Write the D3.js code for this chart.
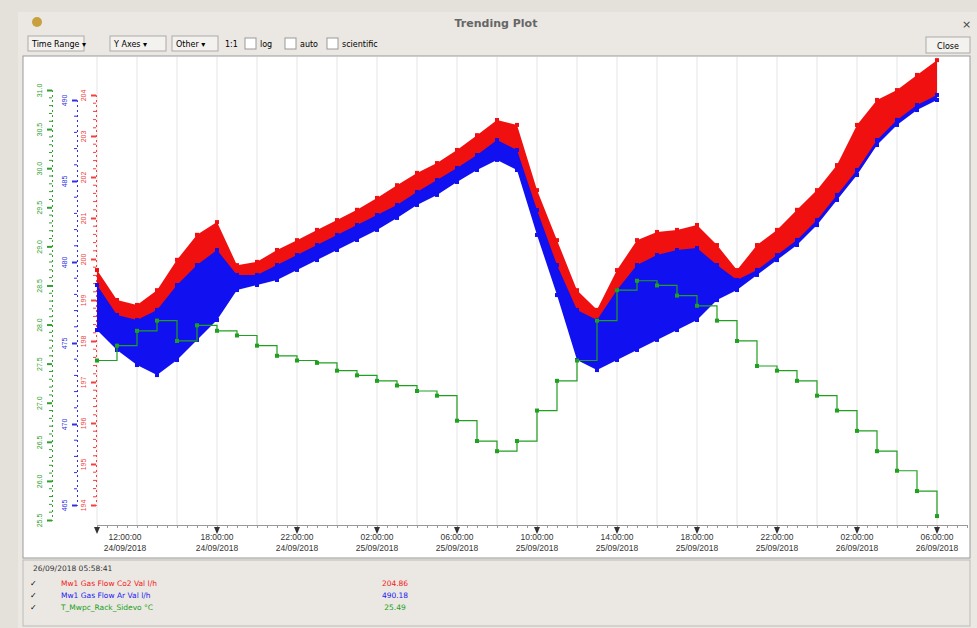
<!DOCTYPE html>
<html><head><meta charset="utf-8">
<script src="https://cdn.jsdelivr.net/npm/d3@7"></script>
<style>body{margin:0;background:#e4e0da;font-family:"DejaVu Sans",sans-serif}</style>
</head><body><svg width="977" height="628"></svg>
<script>
// hourly readings from 24/09/2018 12:00
const co2 = [199.73,199.0,198.88,199.24,199.98,200.59,200.90,199.85,199.93,200.22,200.46,200.71,200.95,201.20,201.49,201.80,202.10,202.34,202.66,203.02,203.39,203.27,201.68,200.46,199.24,198.76,199.73,200.46,200.66,200.71,200.83,200.34,199.73,200.34,200.71,201.20,201.68,202.29,203.27,203.88,204.12,204.49,204.85]
const arHigh = [478.58,476.73,476.42,477.04,478.58,479.81,480.74,479.20,479.20,479.81,480.43,481.05,481.67,482.28,482.90,483.52,484.32,485.06,485.80,486.60,487.53,486.91,483.21,479.81,477.04,476.42,478.27,479.81,480.43,480.74,480.86,479.81,478.89,479.51,480.43,481.36,482.59,484.14,485.68,487.53,488.77,489.69,490.31]
const arLow = [475.80,474.57,473.64,473.02,473.95,475.19,476.42,478.27,478.58,478.89,479.51,480.12,480.74,481.36,481.98,482.72,483.52,484.14,484.94,485.68,486.30,485.68,481.67,477.96,473.95,473.33,473.95,474.57,475.19,475.80,476.42,477.65,478.27,479.20,480.12,481.05,482.28,483.83,485.37,487.22,488.46,489.38,490.00]
const temp = [27.54,27.73,27.92,28.05,27.79,27.99,27.92,27.86,27.73,27.60,27.54,27.51,27.41,27.35,27.28,27.22,27.15,27.09,26.77,26.51,26.38,26.51,26.90,27.28,27.54,28.05,28.44,28.56,28.50,28.37,28.24,28.05,27.79,27.47,27.41,27.28,27.09,26.90,26.64,26.38,26.13,25.87,25.55]
const tickTimes = ["2018-09-24T12:00","2018-09-24T18:00","2018-09-24T22:00","2018-09-25T02:00","2018-09-25T06:00","2018-09-25T10:00","2018-09-25T14:00","2018-09-25T18:00","2018-09-25T22:00","2018-09-26T02:00","2018-09-26T06:00"]
const redTicks = d3.range(194,205)
const blueTicks = [465,470,475,480,485,490]
const greenTicks = d3.range(25.5,31.01,0.5)
const legend = [["Mw1  Gas  Flow  Co2  Val  l/h","204.86","#f02020"],["Mw1  Gas  Flow  Ar  Val  l/h","490.18","#2020f0"],["T_Mwpc_Rack_Sidevo   °C","25.49","#20a020"]]

const svg = d3.select("svg")
const t0 = new Date("2018-09-24T12:00")
const times = co2.map((d,i)=>new Date(+t0+i*3600e3))
const x = d3.scaleTime().domain([t0,new Date("2018-09-26T07:30")]).range([97,967])
const yR = d3.scaleLinear().domain([204,194]).range([95,505])
const yB = d3.scaleLinear().domain([490,465]).range([100,505])
const yG = d3.scaleLinear().domain([31,25.5]).range([90,520])

// window chrome
svg.append("rect").attr("x",18).attr("y",12).attr("width",959).attr("height",616).attr("fill","#ebe8e3")
svg.append("text").attr("x",496).attr("y",27).attr("text-anchor","middle").attr("font-size",11).attr("font-weight","bold").attr("fill","#666").text("Trending Plot")
svg.append("circle").attr("cx",37).attr("cy",22).attr("r",5).attr("fill","#c8a040")
svg.append("text").attr("x",962).attr("y",28).attr("font-size",11).attr("fill","#444").text("×")
const tb=[["Time Range ▾",28,56],["Y Axes ▾",110,56],["Other ▾",172,46]]
tb.forEach(([t,xx,w])=>{svg.append("rect").attr("x",xx).attr("y",36).attr("width",w).attr("height",15).attr("fill","#f4f2ee").attr("stroke","#aaa");svg.append("text").attr("x",xx+4).attr("y",47).attr("font-size",8).text(t)})
svg.append("text").attr("x",225).attr("y",47).attr("font-size",8).text("1:1")
;[["log",245],["auto",285],["scientific",327]].forEach(([t,xx])=>{svg.append("rect").attr("x",xx).attr("y",38).attr("width",11).attr("height",11).attr("fill","#fff").attr("stroke","#999");svg.append("text").attr("x",xx+15).attr("y",47).attr("font-size",8).text(t)})
svg.append("rect").attr("x",926).attr("y",37).attr("width",44).attr("height",16).attr("fill","#f4f2ee").attr("stroke","#aaa")
svg.append("text").attr("x",948).attr("y",49).attr("text-anchor","middle").attr("font-size",8).text("Close")

// plot panel
svg.append("rect").attr("x",23).attr("y",56).attr("width",947).attr("height",502).attr("fill","#fff").attr("stroke","#999")
const grid = svg.append("g")
d3.timeHour.every(2).range(t0,new Date("2018-09-26T08:00")).forEach(d=>{
  grid.append("line").attr("x1",x(d)).attr("x2",x(d)).attr("y1",57).attr("y2",525).attr("stroke","#e4e4e4")
})

// x axis
const xa = svg.append("g").attr("transform","translate(0,525)")
xa.call(d3.axisBottom(x).ticks(d3.timeMinute.every(30)).tickFormat("").tickSize(3))
xa.select(".domain").attr("stroke","#999")
xa.selectAll("line").attr("stroke","#999")
tickTimes.forEach((s,i)=>{
  const d = new Date(s), px = x(d)
  xa.append("path").attr("d",`M${px-3},2L${px+3},2L${px},9Z`).attr("fill","#333")
  const lx = i===0 ? px+28 : px
  xa.append("text").attr("x",lx).attr("y",15).attr("text-anchor","middle").attr("font-size",8.5).attr("fill","#333").text(d3.timeFormat("%H:%M:%S")(d))
  xa.append("text").attr("x",lx).attr("y",26).attr("text-anchor","middle").attr("font-size",8.5).attr("fill","#333").text(d3.timeFormat("%d/%m/%Y")(d))
})

// y axes
function yaxis(sc,ticks,xx,col,fmt){
  const g = svg.append("g").attr("transform",`translate(${xx},0)`)
  g.call(d3.axisLeft(sc).tickValues(ticks).tickFormat(fmt).tickSize(5))
  g.selectAll("text").attr("fill",col).attr("font-size",7).attr("transform","rotate(-90)").attr("x",0).attr("y",-10).attr("text-anchor","middle").attr("dy",0)
  g.selectAll("line").attr("stroke",col).attr("stroke-width",2)
  g.select(".domain").attr("stroke",col).attr("stroke-dasharray","2,3")
  const minor = []; for(let i=0;i<ticks.length-1;i++) for(let k=1;k<5;k++) minor.push(ticks[i]+(ticks[i+1]-ticks[i])*k/5)
  g.selectAll(".mn").data(minor).join("line").attr("x1",-3).attr("x2",0).attr("y1",sc).attr("y2",sc).attr("stroke",col)
}
yaxis(yG,greenTicks,52,"#30a030",d3.format(".1f"))
yaxis(yB,blueTicks,77,"#3030e0",d3.format("d"))
yaxis(yR,redTicks,96,"#f04040",d3.format("d"))

// series
const plot = svg.append("g")
function dots(vals,sc,col){
  plot.selectAll(null).data(vals).join("rect").attr("x",(d,i)=>x(times[i])-2).attr("y",d=>sc(d)-2).attr("width",4).attr("height",4).attr("fill",col)
}
function series(vals,sc,col){
  plot.append("path").datum(vals).attr("fill","none").attr("stroke",col).attr("stroke-width",1.2)
    .attr("d",d3.line().x((d,i)=>x(times[i])).y(d=>sc(d)).curve(d3.curveStepAfter))
  dots(vals,sc,col)
}
plot.append("path").datum(co2).attr("fill","#f01010")
  .attr("d",d3.area().x((d,i)=>x(times[i])).y0((d,i)=>yB(arHigh[i])+4).y1(d=>yR(d)))
dots(co2,yR,"#f01010")
plot.append("path").datum(arHigh).attr("fill","#1010f0")
  .attr("d",d3.area().x((d,i)=>x(times[i])).y0((d,i)=>yB(arLow[i])).y1(d=>yB(d)))
dots(arHigh,yB,"#1010f0")
dots(arLow,yB,"#1010f0")
series(temp,yG,"#20a020")

// legend panel
svg.append("rect").attr("x",23).attr("y",560).attr("width",947).attr("height",66).attr("fill","#ebe8e3").attr("stroke","#bbb")
svg.append("text").attr("x",33).attr("y",571).attr("font-size",7.5).attr("fill","#333").text("26/09/2018 05:58:41")
legend.forEach(([n,v,c],i)=>{
  const yy = 586+i*12
  svg.append("text").attr("x",30).attr("y",yy).attr("font-size",8).text("✓")
  svg.append("text").attr("x",61).attr("y",yy).attr("font-size",7.5).attr("fill",c).text(n)
  svg.append("text").attr("x",395).attr("y",yy).attr("text-anchor","middle").attr("font-size",7.5).attr("fill",c).text(v)
})
</script></body></html>
